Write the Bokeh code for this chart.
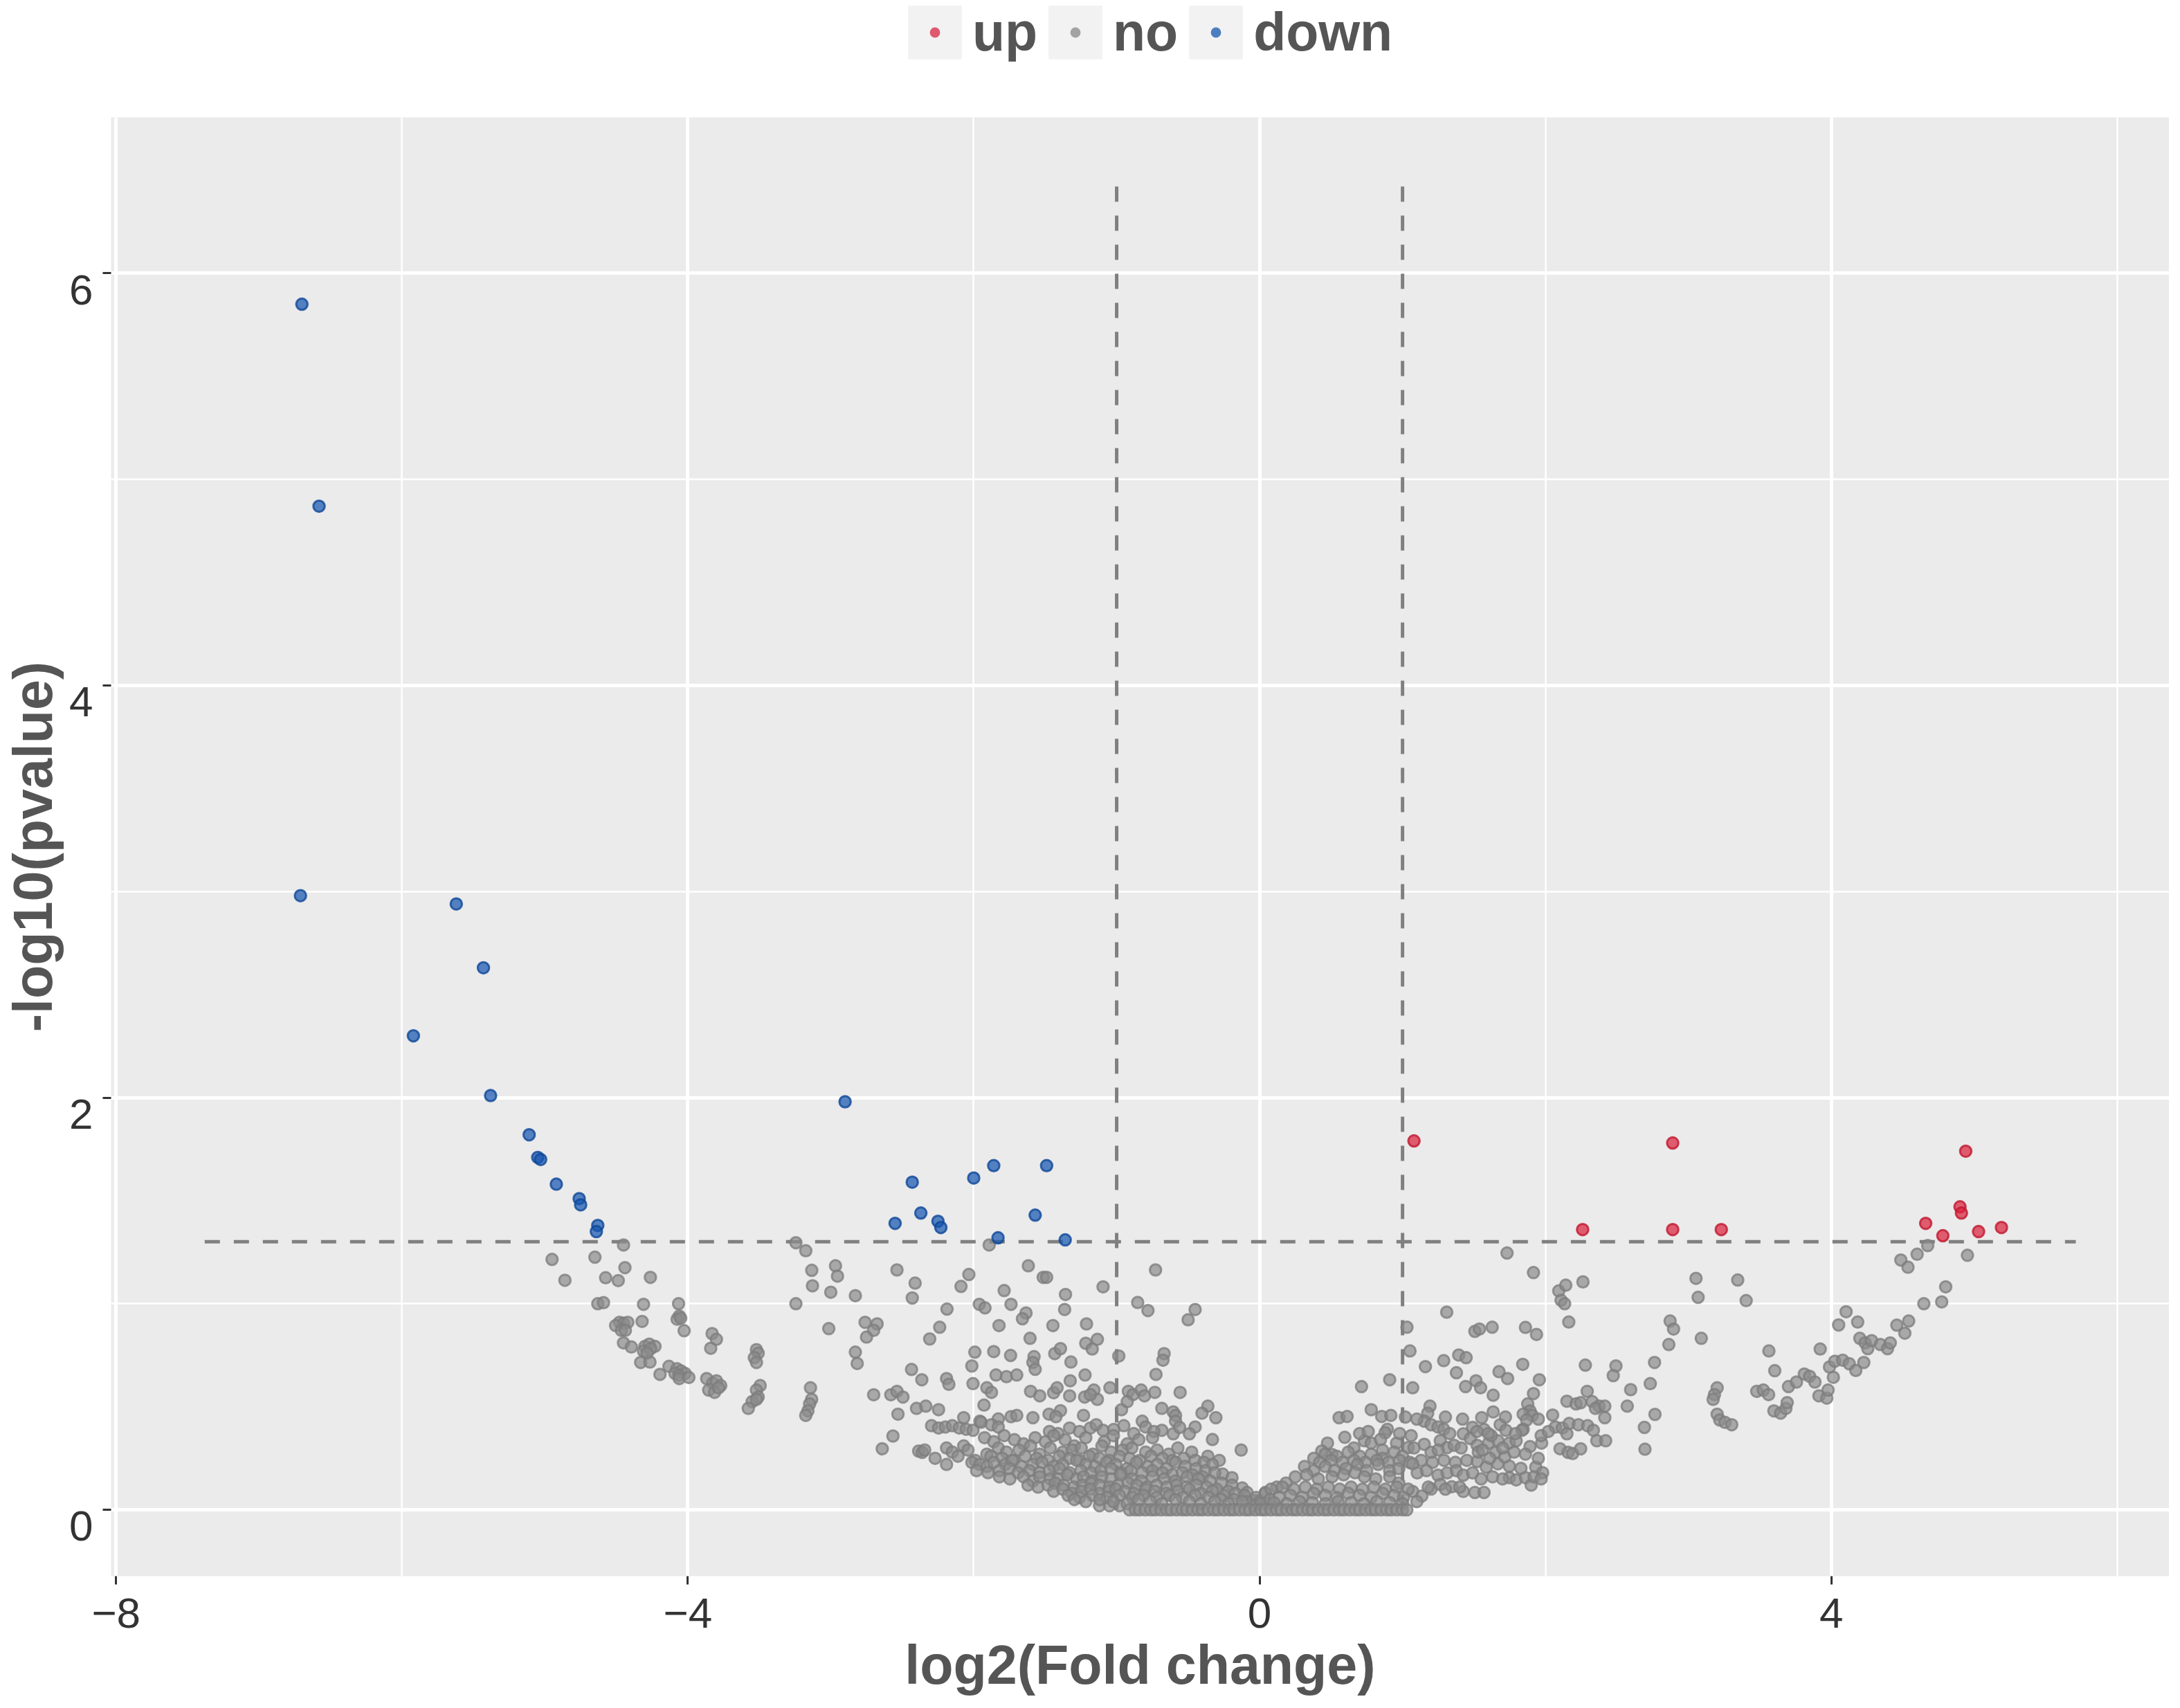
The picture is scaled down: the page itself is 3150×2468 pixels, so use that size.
from bokeh.plotting import figure
from bokeh.layouts import column
from bokeh.models import FixedTicker, Legend, LegendItem, LinearAxis
from bokeh.embed import file_html
from bokeh.resources import INLINE

# ---------------- data ----------------
up_x = [1.08, 2.89, 2.26, 2.89, 3.23, 4.94, 4.66, 4.90, 4.91, 4.78, 5.03, 5.19]
up_y = [1.79, 1.78, 1.36, 1.36, 1.36, 1.74, 1.39, 1.47, 1.44, 1.33, 1.35, 1.37]

down_x = [-6.70, -6.58, -6.71, -5.62, -5.43, -5.92, -5.38, -5.11, -5.05, -5.03, -4.92, -4.76, -4.75, -4.63,
          -4.64, -2.90, -2.43, -2.37, -2.55, -2.25, -2.23, -2.00, -1.86, -1.49, -1.57, -1.83, -1.36]
down_y = [5.85, 4.87, 2.98, 2.94, 2.63, 2.30, 2.01, 1.82, 1.71, 1.70, 1.58, 1.51, 1.48, 1.38,
          1.35, 1.98, 1.59, 1.44, 1.39, 1.40, 1.37, 1.61, 1.67, 1.67, 1.43, 1.32, 1.31]

no_left_arm = [
    (-4.95, 1.215), (-4.65, 1.226), (-4.45, 1.285), (-4.44, 1.175), (-4.86, 1.114), (-4.575, 1.126),
    (-4.487, 1.112), (-4.262, 1.128), (-4.63, 1.0), (-4.59, 1.005), (-4.31, 0.997), (-4.065, 1.0),
    (-4.06, 0.94), (-4.075, 0.925), (-4.05, 0.93), (-4.026, 0.869), (-4.478, 0.91), (-4.45, 0.905),
    (-4.42, 0.91), (-4.505, 0.894), (-4.465, 0.871), (-4.437, 0.871), (-4.32, 0.914), (-4.45, 0.81),
    (-4.395, 0.79), (-4.30, 0.793), (-4.27, 0.804), (-4.23, 0.793), (-4.31, 0.77), (-4.26, 0.782),
    (-4.285, 0.76), (-4.33, 0.715), (-4.265, 0.717), (-4.195, 0.657), (-4.132, 0.696), (-4.076, 0.685),
    (-4.048, 0.674), (-4.09, 0.662), (-4.02, 0.662), (-4.062, 0.652), (-4.06, 0.637), (-3.993, 0.642),
    (-3.83, 0.855), (-3.80, 0.827), (-3.84, 0.784), (-3.868, 0.637), (-3.826, 0.615), (-3.80, 0.626),
    (-3.77, 0.603), (-3.854, 0.581), (-3.813, 0.57), (-3.785, 0.592), (-3.52, 0.777), (-3.508, 0.76),
    (-3.535, 0.738), (-3.52, 0.715), (-3.494, 0.603), (-3.52, 0.581), (-3.508, 0.547), (-3.55, 0.525),
    (-3.577, 0.492), (-3.52, 0.536), (-3.142, 0.592), (-3.134, 0.536), (-3.148, 0.514), (-3.16, 0.48),
    (-3.175, 0.458),
]

no_left_scatter = [
    (-3.244, 1.296), (-3.175, 1.257), (-3.133, 1.162), (-3.128, 1.087), (-2.967, 1.184), (-2.953, 1.134),
    (-3.0, 1.056), (-2.828, 1.039), (-3.244, 1.0), (-3.014, 0.879), (-2.76, 0.91), (-2.676, 0.902),
    (-2.70, 0.871), (-2.75, 0.838), (-2.828, 0.765), (-2.815, 0.71), (-2.537, 1.164), (-2.41, 1.10),
    (-2.43, 1.028), (-2.435, 0.681), (-2.363, 0.631), (-2.70, 0.558), (-2.58, 0.558), (-2.537, 0.575),
    (-2.495, 0.547), (-2.53, 0.464), (-2.40, 0.492), (-2.565, 0.358), (-2.64, 0.296), (-2.385, 0.285),
    (-2.36, 0.279),
]

no_mid_left = [
    (-1.892, 1.285), (-2.034, 1.142), (-2.089, 1.084), (-1.618, 1.184), (-1.514, 1.128), (-1.49, 1.128),
    (-1.787, 1.064), (-1.358, 1.045), (-1.095, 1.082), (-0.728, 1.164), (-1.961, 0.997), (-1.921, 0.98),
    (-2.187, 0.974), (-1.739, 0.997), (-1.634, 0.955), (-1.659, 0.927), (-1.364, 0.972), (-2.238, 0.886),
    (-2.308, 0.829), (-1.823, 0.894), (-1.446, 0.894), (-1.211, 0.902), (-1.606, 0.832), (-1.135, 0.827),
    (-1.216, 0.808), (-1.171, 0.78), (-0.853, 1.006), (-0.781, 0.967), (-0.451, 0.972), (-0.5, 0.922),
    (-1.992, 0.765), (-1.86, 0.768), (-1.742, 0.749), (-2.013, 0.698), (-1.578, 0.743), (-1.586, 0.715),
    (-1.57, 0.682), (-1.433, 0.758), (-1.393, 0.782), (-1.32, 0.717), (-0.985, 0.746), (-0.668, 0.758),
    (-0.676, 0.726), (-0.725, 0.657), (-1.844, 0.654), (-1.771, 0.646), (-1.699, 0.654), (-2.19, 0.637),
    (-2.174, 0.609), (-2.005, 0.612), (-1.325, 0.626), (-1.221, 0.654), (-1.908, 0.592), (-1.876, 0.57),
    (-1.602, 0.575), (-1.538, 0.553), (-1.441, 0.568), (-1.417, 0.592), (-1.329, 0.553), (-1.224, 0.547),
    (-1.159, 0.581), (-1.135, 0.536), (-1.184, 0.559), (-1.047, 0.592), (-0.918, 0.575), (-0.886, 0.559),
    (-0.829, 0.581), (-0.805, 0.553), (-0.733, 0.57), (-0.556, 0.57), (-2.246, 0.486), (-2.335, 0.503),
    (-1.928, 0.508), (-0.966, 0.486), (-0.926, 0.525), (-0.684, 0.492), (-0.604, 0.475), (-0.588, 0.458),
    (-0.588, 0.43), (-0.362, 0.503), (-0.403, 0.469), (-0.306, 0.447), (-2.07, 0.447), (-1.957, 0.43),
    (-1.828, 0.441), (-1.739, 0.452), (-1.699, 0.458), (-1.586, 0.447), (-1.473, 0.464), (-1.393, 0.481),
    (-1.425, 0.452), (-1.232, 0.458), (-2.295, 0.408), (-2.246, 0.397), (-2.198, 0.402), (-2.15, 0.408),
    (-2.101, 0.397), (-2.053, 0.391), (-2.005, 0.386), (-1.948, 0.425), (-1.876, 0.413), (-1.828, 0.402),
    (-1.329, 0.397), (-1.184, 0.397), (-1.143, 0.413), (-1.095, 0.386), (-0.95, 0.408), (-0.821, 0.43),
    (-0.797, 0.402), (-0.684, 0.386), (-0.604, 0.369), (-0.451, 0.402), (-0.491, 0.369), (-0.33, 0.341),
    (-0.129, 0.29), (-0.258, 0.173), (-0.193, 0.156), (-0.121, 0.106), (-0.088, 0.084), (-0.024, 0.045),
    (0.04, 0.084), (-1.47, 0.38), (-1.41, 0.37), (-1.26, 0.38), (-1.02, 0.39), (-0.88, 0.37),
    (-0.74, 0.38), (-0.56, 0.40), (-1.12, 0.02), (-1.05, 0.02), (-0.98, 0.02),
]

no_mid_left_dense = [
    (-1.924, 0.35), (-1.86, 0.33), (-1.787, 0.36), (-1.715, 0.34), (-1.651, 0.32), (-1.570, 0.35),
    (-1.498, 0.33), (-1.441, 0.36), (-1.361, 0.34), (-1.296, 0.31), (-1.216, 0.35), (-1.087, 0.33),
    (-1.023, 0.36), (-0.926, 0.32), (-0.845, 0.34), (-0.749, 0.35),
    (-2.343, 0.29), (-2.19, 0.30), (-2.15, 0.28), (-2.07, 0.31), (-2.04, 0.29), (-1.908, 0.27),
    (-1.828, 0.30), (-1.771, 0.28), (-1.683, 0.29), (-1.602, 0.31), (-1.538, 0.27), (-1.465, 0.30),
    (-1.377, 0.28), (-1.312, 0.29), (-1.248, 0.30), (-1.167, 0.27), (-1.103, 0.31), (-1.039, 0.28),
    (-0.958, 0.29), (-0.894, 0.30), (-0.797, 0.28), (-0.717, 0.29), (-0.636, 0.27), (-0.572, 0.30),
    (-0.475, 0.28), (-0.362, 0.26), (-0.282, 0.24),
    (-2.27, 0.25), (-2.11, 0.26), (-1.99, 0.24), (-1.88, 0.26), (-1.80, 0.25), (-1.72, 0.24),
    (-1.64, 0.26), (-1.56, 0.25), (-1.48, 0.24), (-1.40, 0.26), (-1.33, 0.25), (-1.26, 0.24),
    (-1.19, 0.26), (-1.12, 0.25), (-1.05, 0.24), (-0.98, 0.26), (-0.91, 0.25), (-0.84, 0.24),
    (-0.76, 0.26), (-0.68, 0.25), (-0.61, 0.24), (-0.53, 0.25), (-0.45, 0.24), (-0.39, 0.23),
    (-0.33, 0.22),
    (-2.19, 0.22), (-2.013, 0.23), (-1.957, 0.22), (-1.908, 0.21), (-1.86, 0.23), (-1.779, 0.22),
    (-1.731, 0.24), (-1.667, 0.21), (-1.586, 0.22), (-1.522, 0.23), (-1.441, 0.21), (-1.377, 0.22),
    (-1.28, 0.24), (-1.216, 0.22), (-1.151, 0.21), (-1.071, 0.23), (-1.006, 0.22), (-0.926, 0.20),
    (-0.862, 0.23), (-0.781, 0.21), (-0.717, 0.22), (-0.652, 0.20), (-0.588, 0.23), (-0.523, 0.21),
    (-0.443, 0.20), (-0.378, 0.19), (-0.314, 0.18),
    (-1.98, 0.19), (-1.90, 0.18), (-1.82, 0.19), (-1.75, 0.20), (-1.69, 0.18), (-1.61, 0.19),
    (-1.54, 0.18), (-1.47, 0.19), (-1.40, 0.20), (-1.33, 0.18), (-1.25, 0.19), (-1.18, 0.18),
    (-1.11, 0.19), (-1.04, 0.20), (-0.97, 0.18), (-0.90, 0.19), (-0.82, 0.18), (-0.75, 0.19),
    (-0.68, 0.18), (-0.61, 0.17), (-0.54, 0.18), (-0.47, 0.17), (-0.40, 0.16),
    (-1.82, 0.16), (-1.747, 0.15), (-1.651, 0.16), (-1.586, 0.14), (-1.538, 0.16), (-1.465, 0.15),
    (-1.409, 0.15), (-1.345, 0.17), (-1.28, 0.15), (-1.232, 0.16), (-1.167, 0.14), (-1.103, 0.16),
    (-1.039, 0.15), (-0.974, 0.17), (-0.894, 0.15), (-0.829, 0.14), (-0.749, 0.16), (-0.668, 0.15),
    (-0.588, 0.14), (-0.507, 0.16), (-0.427, 0.15), (-0.346, 0.14), (-0.266, 0.13), (-0.193, 0.12),
    (-1.62, 0.12), (-1.55, 0.11), (-1.48, 0.12), (-1.43, 0.13), (-1.37, 0.12), (-1.30, 0.11),
    (-1.24, 0.12), (-1.18, 0.13), (-1.12, 0.12), (-1.05, 0.11), (-0.99, 0.12), (-0.92, 0.13),
    (-0.86, 0.12), (-0.79, 0.11), (-0.72, 0.12), (-0.65, 0.11), (-0.58, 0.12), (-0.51, 0.11),
    (-0.44, 0.12), (-0.37, 0.11), (-0.30, 0.10), (-0.22, 0.09),
    (-1.441, 0.09), (-1.377, 0.10), (-1.312, 0.08), (-1.248, 0.09), (-1.184, 0.10), (-1.119, 0.08),
    (-1.055, 0.09), (-1.006, 0.10), (-0.942, 0.09), (-0.878, 0.08), (-0.797, 0.10), (-0.733, 0.09),
    (-0.652, 0.08), (-0.572, 0.09), (-0.491, 0.10), (-0.411, 0.08), (-0.33, 0.09), (-0.25, 0.07),
    (-0.169, 0.08), (-0.105, 0.07), (-0.024, 0.06),
    (-1.34, 0.07), (-1.26, 0.06), (-1.17, 0.07), (-1.07, 0.06), (-0.98, 0.07), (-0.89, 0.06),
    (-0.81, 0.07), (-0.72, 0.06), (-0.63, 0.07), (-0.54, 0.06), (-0.45, 0.07), (-0.36, 0.06),
    (-0.27, 0.05), (-0.18, 0.05), (-0.09, 0.04), (0.0, 0.04),
    (-1.296, 0.05), (-1.216, 0.04), (-1.119, 0.05), (-1.023, 0.04), (-0.926, 0.03), (-0.845, 0.05),
    (-0.765, 0.04), (-0.684, 0.03), (-0.588, 0.05), (-0.491, 0.04), (-0.411, 0.03), (-0.314, 0.04),
    (-0.217, 0.03), (-0.121, 0.04), (-0.04, 0.02), (0.056, 0.03),
]

no_floor_x = [-0.91, -0.87, -0.84, -0.80, -0.76, -0.73, -0.69, -0.65, -0.62, -0.58, -0.54, -0.51, -0.47,
              -0.43, -0.40, -0.36, -0.32, -0.29, -0.25, -0.21, -0.18, -0.14, -0.10, -0.07, -0.03, 0.01,
              0.04, 0.08, 0.12, 0.15, 0.19, 0.23, 0.26, 0.30, 0.34, 0.37, 0.41, 0.45, 0.48, 0.52, 0.56,
              0.59, 0.63, 0.67, 0.70, 0.74, 0.78, 0.81, 0.85, 0.89, 0.92, 0.96, 1.00, 1.03]

no_mid_right = [
    (1.731, 1.246), (1.916, 1.151), (2.262, 1.106), (2.093, 1.062), (2.142, 1.09), (2.109, 1.017),
    (2.134, 1.0), (2.163, 0.911), (1.309, 0.959), (1.031, 0.886), (1.506, 0.866), (1.538, 0.877),
    (1.627, 0.886), (1.86, 0.885), (1.937, 0.851), (1.052, 0.771), (1.16, 0.695), (1.288, 0.724),
    (1.393, 0.751), (1.445, 0.738), (1.377, 0.665), (1.675, 0.67), (1.735, 0.637), (1.841, 0.706),
    (1.957, 0.631), (2.279, 0.702), (0.713, 0.598), (0.91, 0.631), (1.071, 0.592), (1.441, 0.598),
    (1.514, 0.626), (1.546, 0.592), (1.634, 0.556), (1.916, 0.564), (2.292, 0.575), (2.15, 0.527),
    (2.214, 0.514), (2.246, 0.52), (2.327, 0.525), (2.375, 0.503), (1.192, 0.503), (1.176, 0.469),
    (1.876, 0.514), (1.892, 0.48), (1.844, 0.464), (1.908, 0.458), (1.868, 0.436), (1.844, 0.391),
    (0.556, 0.447), (0.612, 0.453), (0.781, 0.486), (0.854, 0.453), (0.918, 0.458), (1.554, 0.447),
    (1.634, 0.475), (1.152, 0.43), (1.2, 0.413), (1.248, 0.402), (1.288, 0.391), (0.894, 0.391),
    (0.878, 0.374), (1.425, 0.369), (1.683, 0.413), (1.723, 0.386), (1.836, 0.386), (2.069, 0.402),
    (2.118, 0.397), (2.166, 0.419), (2.23, 0.413), (2.295, 0.408), (2.335, 0.386), (2.15, 0.369),
    (2.359, 0.335), (0.596, 0.352), (0.475, 0.324), (0.435, 0.285), (0.507, 0.268), (0.733, 0.335),
    (0.781, 0.324), (0.846, 0.341), (0.958, 0.324), (1.039, 0.302), (1.152, 0.318), (1.2, 0.279),
    (1.264, 0.335), (1.312, 0.302), (1.361, 0.313), (1.474, 0.346), (1.522, 0.313), (1.602, 0.324),
    (1.667, 0.335), (1.747, 0.324), (1.795, 0.335), (1.892, 0.307), (1.973, 0.324), (2.102, 0.296),
    (2.158, 0.279), (2.19, 0.273), (2.246, 0.296), (1.522, 0.235), (1.586, 0.207), (1.667, 0.223),
    (1.747, 0.212), (1.828, 0.201), (1.932, 0.207), (1.651, 0.279), (1.715, 0.257), (1.747, 0.156),
    (1.795, 0.145), (1.86, 0.156), (1.49, 0.40), (1.57, 0.39), (1.62, 0.36), (1.70, 0.30),
    (1.78, 0.28), (1.86, 0.27), (1.95, 0.25), (1.53, 0.28), (1.61, 0.25), (1.98, 0.18), (1.90, 0.12),
    (0.70, 0.37), (0.76, 0.38), (0.98, 0.37), (1.06, 0.36), (1.33, 0.37), (1.52, 0.38), (1.60, 0.37),
    (1.79, 0.37), (1.97, 0.36), (2.02, 0.38), (1.02, 0.45), (1.10, 0.44), (1.30, 0.45), (1.42, 0.44),
    (1.72, 0.45), (1.95, 0.44), (2.05, 0.46), (0.66, 0.30), (0.86, 0.29), (1.08, 0.30), (1.25, 0.29),
    (1.41, 0.30), (1.56, 0.29), (1.55, 0.15), (1.63, 0.16), (1.70, 0.15), (1.92, 0.16), (1.97, 0.15),
]

no_mid_right_dense = [
    (0.379, 0.25), (0.459, 0.27), (0.54, 0.26), (0.62, 0.28), (0.70, 0.26), (0.781, 0.27),
    (0.862, 0.25), (0.942, 0.28), (1.0, 0.26),
    (0.42, 0.23), (0.50, 0.24), (0.58, 0.23), (0.66, 0.24), (0.74, 0.23), (0.82, 0.24),
    (0.90, 0.23), (0.98, 0.24), (1.05, 0.23), (1.13, 0.24), (1.21, 0.23), (1.29, 0.24),
    (1.37, 0.23), (1.45, 0.24),
    (0.314, 0.21), (0.379, 0.19), (0.459, 0.21), (0.523, 0.19), (0.604, 0.20), (0.684, 0.22),
    (0.749, 0.19), (0.83, 0.22), (0.91, 0.19), (0.974, 0.20), (1.071, 0.223), (1.103, 0.179),
    (1.168, 0.19), (1.248, 0.168), (1.312, 0.179), (1.377, 0.19), (1.425, 0.168), (1.49, 0.179),
    (0.04, 0.08), (0.121, 0.11), (0.185, 0.13), (0.25, 0.16), (0.33, 0.17), (0.411, 0.15),
    (0.507, 0.16), (0.588, 0.17), (0.668, 0.18), (0.733, 0.16), (0.813, 0.15), (0.91, 0.16),
    (0.974, 0.13), (1.071, 0.089), (1.135, 0.067), (1.2, 0.101), (1.264, 0.123), (1.345, 0.112),
    (1.425, 0.089), (1.506, 0.084), (1.57, 0.084),
    (0.08, 0.10), (0.16, 0.11), (0.24, 0.10), (0.32, 0.11), (0.40, 0.10), (0.48, 0.11),
    (0.56, 0.10), (0.64, 0.11), (0.72, 0.10), (0.80, 0.11), (0.88, 0.10), (0.96, 0.11),
    (1.04, 0.10), (1.18, 0.11), (1.30, 0.10), (1.40, 0.11),
    (0.008, 0.03), (0.073, 0.05), (0.137, 0.06), (0.217, 0.07), (0.298, 0.06), (0.379, 0.08),
    (0.459, 0.07), (0.54, 0.06), (0.62, 0.08), (0.70, 0.07), (0.781, 0.06), (0.862, 0.08),
    (0.942, 0.07), (1.007, 0.06),
    (0.10, 0.035), (0.19, 0.03), (0.28, 0.04), (0.37, 0.035), (0.46, 0.03), (0.55, 0.04),
    (0.64, 0.035), (0.73, 0.03), (0.82, 0.04), (0.91, 0.035), (1.0, 0.03), (1.10, 0.04),
]

no_right_arm = [
    (3.053, 1.123), (3.068, 1.031), (3.345, 1.115), (3.404, 1.015), (2.872, 0.916), (2.896, 0.877),
    (2.863, 0.802), (3.09, 0.832), (2.763, 0.715), (2.733, 0.612), (2.493, 0.698), (2.474, 0.651),
    (2.596, 0.583), (2.572, 0.503), (2.766, 0.463), (2.692, 0.4), (2.696, 0.294), (2.35, 0.492),
    (2.415, 0.503), (2.415, 0.447), (2.421, 0.335), (3.201, 0.592), (3.182, 0.559), (3.173, 0.536),
    (3.201, 0.464), (3.219, 0.436), (3.256, 0.424), (3.303, 0.413), (3.563, 0.771), (3.604, 0.675),
    (3.478, 0.575), (3.524, 0.581), (3.561, 0.559), (3.598, 0.48), (3.645, 0.469), (3.682, 0.492),
    (3.691, 0.52), (3.7, 0.598), (3.756, 0.62), (3.811, 0.659), (3.848, 0.648), (3.885, 0.62),
    (3.922, 0.78), (3.913, 0.553), (3.968, 0.542), (3.977, 0.581), (4.014, 0.643), (3.987, 0.693),
    (4.024, 0.721), (4.079, 0.726), (4.125, 0.709), (4.171, 0.676), (4.227, 0.715), (4.051, 0.897),
    (4.103, 0.961), (4.184, 0.911), (4.199, 0.832), (4.236, 0.81), (4.255, 0.782), (4.282, 0.821),
    (4.343, 0.802), (4.393, 0.782), (4.412, 0.81), (4.458, 0.896), (4.514, 0.857), (4.541, 0.916),
    (4.647, 1.0), (4.772, 1.009), (4.8, 1.082), (4.486, 1.212), (4.536, 1.177), (4.6, 1.24),
    (4.674, 1.282), (4.952, 1.235),
]

# threshold lines
fc_cut = [-1, 1]
p_cut = 1.301
hline_x = [-7.38, 5.71]
vline_top = 6.435

x_ticks = [-8, -4, 0, 4]
x_minor = [-6, -2, 2, 6]
y_ticks = [0, 2, 4, 6]
y_minor = [1, 3, 5]
x_tick_labels = {-8: "\u22128", -4: "\u22124", 0: "0", 4: "4"}
# y tick labels sit just below their tick (digit top level with the tick)
y_label_pos = [-0.08, 1.92, 3.92, 5.92]
y_tick_labels = {-0.08: "0", 1.92: "2", 3.92: "4", 5.92: "6"}
legend_labels = ["up", "no", "down"]

# ---------------- assemble ----------------
no_pts = (no_left_arm + no_left_scatter + no_mid_left + no_mid_left_dense
          + no_mid_right + no_mid_right_dense + no_right_arm)
no_x = [pt[0] for pt in no_pts] + no_floor_x
no_y = [pt[1] for pt in no_pts] + [0.0] * len(no_floor_x)

FONT = "Liberation Sans"
W = 3134
LEG_H = 169
MAIN_H = 2452 - LEG_H

# ---------------- main plot ----------------
p = figure(width=W, height=MAIN_H, x_range=(-8.035, 6.364), y_range=(-0.322, 6.757),
           output_backend="svg", toolbar_location=None,
           min_border_left=154, min_border_right=0, min_border_top=0, min_border_bottom=174)

p.background_fill_color = "#EBEBEB"
p.border_fill_color = "white"
p.outline_line_color = None

xa = p.xaxis[0]
ya = p.yaxis[0]
xa.ticker = FixedTicker(ticks=x_ticks, minor_ticks=x_minor)
ya.ticker = FixedTicker(ticks=y_ticks, minor_ticks=y_minor)
p.xgrid.ticker = FixedTicker(ticks=x_ticks, minor_ticks=x_minor)
p.ygrid.ticker = FixedTicker(ticks=y_ticks, minor_ticks=y_minor)
xa.major_label_overrides = x_tick_labels

for g in (p.xgrid, p.ygrid):
    g.grid_line_color = "white"
    g.grid_line_width = 5
    g.minor_grid_line_color = "white"
    g.minor_grid_line_width = 2.5

for ax in (xa, ya):
    ax.axis_line_color = None
    ax.minor_tick_line_color = None
    ax.major_tick_line_color = "#333333"
    ax.major_tick_line_width = 3
    ax.major_tick_out = 12
    ax.major_tick_in = 0

xa.major_label_text_font = FONT
xa.major_label_text_font_size = "62px"
xa.major_label_text_color = "#333333"
xa.axis_label = "log2(Fold change)"
xa.axis_label_text_font = FONT
xa.axis_label_text_font_size = "79px"
xa.axis_label_text_font_style = "bold"
xa.axis_label_text_color = "#555555"
xa.major_label_standoff = 20
xa.axis_label_standoff = 6

# y axis next to the frame: tick marks only
ya.major_label_overrides = {t: "" for t in y_ticks}
ya.major_label_standoff = 0
ya.major_label_text_font_size = "1px"

# outer y axis: labels + title, no tick marks
yb = LinearAxis(ticker=FixedTicker(ticks=y_label_pos), major_label_overrides=y_tick_labels,
                axis_label="-log10(pvalue)")
yb.axis_line_color = None
yb.major_tick_line_color = None
yb.minor_tick_line_color = None
yb.major_tick_out = 0
yb.major_tick_in = 0
yb.major_label_standoff = 14
yb.major_label_text_font = FONT
yb.major_label_text_font_size = "62px"
yb.major_label_text_color = "#333333"
yb.axis_label_text_font = FONT
yb.axis_label_text_font_size = "79px"
yb.axis_label_text_font_style = "bold"
yb.axis_label_text_color = "#555555"
yb.axis_label_standoff = 5
p.add_layout(yb, "left")

# dashed threshold lines
p.segment(x0=[hline_x[0]], y0=[p_cut], x1=[hline_x[1]], y1=[p_cut],
          line_color="#808080", line_width=5, line_dash="22 20")
p.segment(x0=fc_cut, y0=[0, 0], x1=fc_cut, y1=[vline_top, vline_top],
          line_color="#808080", line_width=5, line_dash="22 20")

# points
p.scatter(no_x, no_y, marker="circle", size=16.5, fill_color="#8C8C8C", fill_alpha=0.7,
          line_color="#7E7E7E", line_alpha=0.78, line_width=3)
p.scatter(up_x, up_y, marker="circle", size=16.5, fill_color="#D9223D", fill_alpha=0.72,
          line_color="#C0182F", line_alpha=0.8, line_width=3)
p.scatter(down_x, down_y, marker="circle", size=16.5, fill_color="#1656B0", fill_alpha=0.72,
          line_color="#0F4799", line_alpha=0.8, line_width=3)

# ---------------- legend strip on top ----------------
lg = figure(width=W, height=LEG_H, x_range=(0, 1), y_range=(0, 1),
            output_backend="svg", toolbar_location=None, min_border=0,
            x_axis_type=None, y_axis_type=None)
lg.outline_line_color = None
lg.grid.visible = False
lg.background_fill_color = "white"
lg.border_fill_color = "white"

key_colors = ["#DE5A6E", "#A3A3A3", "#4D7EC0"]
items = []
for lab, col in zip(legend_labels, key_colors):
    # legend-only renderers, placed outside the visible range
    bg = lg.rect(x=[5], y=[5], width=1, height=1, fill_color="#F2F2F2", line_color=None)
    dot = lg.scatter(x=[5], y=[5], marker="circle", size=10, fill_color=col,
                     line_color="#F2F2F2", line_width=24)
    items.append(LegendItem(label=lab, renderers=[bg, dot]))

legend = Legend(items=items, orientation="horizontal", location=(1142, 74),
                glyph_width=97, glyph_height=97, label_standoff=6, spacing=6, padding=0, margin=0,
                border_line_color=None, background_fill_alpha=0,
                label_text_font=FONT, label_text_font_size="77px", label_text_font_style="bold",
                label_text_color="#555555", label_height=97)
lg.add_layout(legend, "center")

layout = column(lg, p, spacing=0)
open("out.html", "w").write(file_html(layout, INLINE))
